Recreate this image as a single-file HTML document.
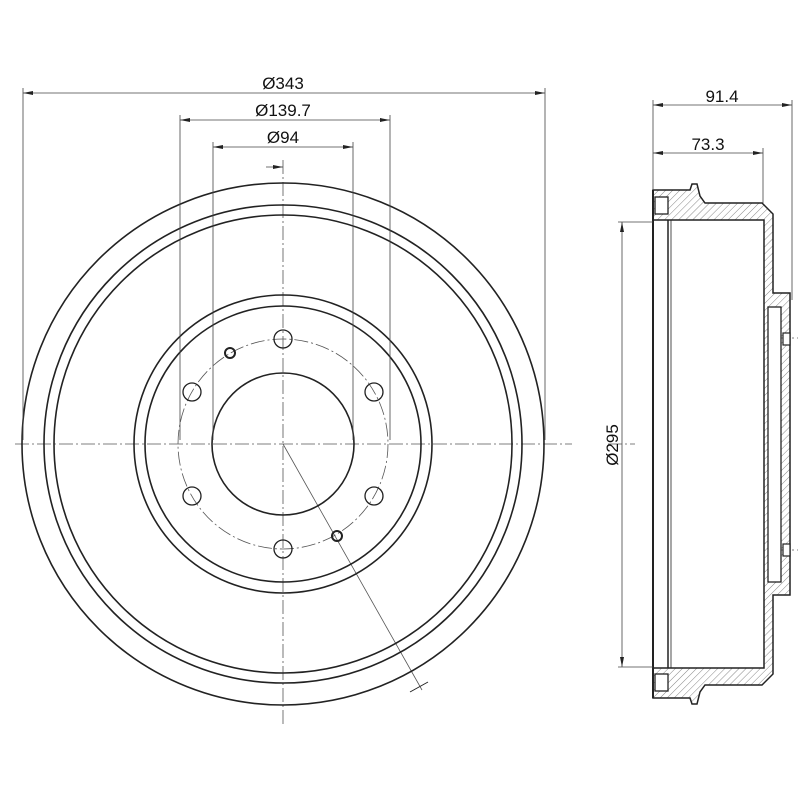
<!DOCTYPE html>
<html><head><style>html,body{margin:0;padding:0;background:#fff}svg{display:block}</style></head><body>
<svg width="800" height="800" viewBox="0 0 800 800" xmlns="http://www.w3.org/2000/svg" font-family="Liberation Sans, sans-serif">
<defs>
<pattern id="h" width="5" height="5" patternUnits="userSpaceOnUse" patternTransform="rotate(45)">
<line x1="0" y1="0" x2="0" y2="5" stroke="#888" stroke-width="1"/>
</pattern>
<marker id="a" viewBox="0 0 10 6" refX="10" refY="3" markerWidth="10" markerHeight="6" orient="auto-start-reverse" markerUnits="userSpaceOnUse"><path d="M0,1 L10,3 L0,5z" fill="#222"/></marker>
</defs>
<g fill="none" stroke="#222">
<g stroke="#555" stroke-width="0.8" stroke-dasharray="14,3,2,3">
<line x1="15" y1="444" x2="572" y2="444"/>
<line x1="283" y1="160" x2="283" y2="725"/>
<circle cx="283" cy="444" r="105"/>
<line x1="608" y1="444" x2="635" y2="444"/>
<line x1="775" y1="338" x2="798" y2="338"/>
<line x1="775" y1="550" x2="798" y2="550"/>
</g>
<line x1="283" y1="444" x2="422" y2="690" stroke="#555" stroke-width="0.8"/>
<line x1="410" y1="692" x2="428" y2="682" stroke="#222" stroke-width="1"/>
<g stroke-width="1.6">
<circle cx="283" cy="444" r="261"/>
<circle cx="283" cy="444" r="239"/>
<circle cx="283" cy="444" r="229"/>
<circle cx="283" cy="444" r="149"/>
<circle cx="283" cy="444" r="138"/>
<circle cx="283" cy="444" r="71"/>
</g>
<g stroke-width="1.3">
<circle cx="283" cy="339" r="9"/>
<circle cx="283" cy="549" r="9"/>
<circle cx="192" cy="392" r="9"/>
<circle cx="374" cy="392" r="9"/>
<circle cx="192" cy="496" r="9"/>
<circle cx="374" cy="496" r="9"/>
<circle cx="230" cy="353" r="5" stroke-width="2"/>
<circle cx="337" cy="536" r="5" stroke-width="2"/>
</g>
<g stroke="#444" stroke-width="0.8">
<line x1="23" y1="88" x2="23" y2="440"/>
<line x1="545" y1="88" x2="545" y2="440"/>
<line x1="180" y1="115" x2="180" y2="440"/>
<line x1="390" y1="115" x2="390" y2="440"/>
<line x1="213" y1="142" x2="213" y2="440"/>
<line x1="353" y1="142" x2="353" y2="440"/>
<line x1="23" y1="93" x2="545" y2="93" marker-start="url(#a)" marker-end="url(#a)"/>
<line x1="180" y1="120" x2="390" y2="120" marker-start="url(#a)" marker-end="url(#a)"/>
<line x1="213" y1="147" x2="353" y2="147" marker-start="url(#a)" marker-end="url(#a)"/>
<line x1="266" y1="167" x2="283" y2="167" marker-end="url(#a)"/>
</g>
<path d="M653,190 L690,190 L692,184 L697,184 L700,196 L705,203 L762,203 L773,214 L773,293 L790,293 L790,595 L773,595 L773,674 L762,685 L705,685 L700,692 L697,704 L692,704 L690,698 L653,698 Z M653,220 L764,220 L764,668 L653,668 Z" fill="url(#h)" fill-rule="evenodd" stroke-width="1.5"/>
<rect x="655" y="197" width="13" height="17" fill="#fff" stroke-width="1.3"/>
<rect x="655" y="674" width="13" height="17" fill="#fff" stroke-width="1.3"/>
<rect x="768" y="307" width="13" height="275" fill="#fff" stroke-width="1.3"/>
<rect x="783" y="333" width="7" height="12" fill="#fff" stroke-width="1.2"/>
<rect x="783" y="544" width="7" height="12" fill="#fff" stroke-width="1.2"/>
<line x1="668" y1="220" x2="668" y2="668" stroke-width="1.5"/>
<line x1="671" y1="220" x2="671" y2="668" stroke-width="0.8"/>
<line x1="653" y1="190" x2="653" y2="698" stroke-width="2"/>
<g stroke="#444" stroke-width="0.8">
<line x1="653" y1="100" x2="653" y2="190"/>
<line x1="792" y1="100" x2="792" y2="300"/>
<line x1="763" y1="148" x2="763" y2="203"/>
<line x1="653" y1="105" x2="792" y2="105" marker-start="url(#a)" marker-end="url(#a)"/>
<line x1="653" y1="153" x2="763" y2="153" marker-start="url(#a)" marker-end="url(#a)"/>
<line x1="618" y1="222" x2="653" y2="222"/>
<line x1="618" y1="667" x2="653" y2="667"/>
<line x1="622" y1="222" x2="622" y2="667" marker-start="url(#a)" marker-end="url(#a)"/>
</g>
</g>
<g font-size="17" fill="#111" text-anchor="middle">
<text x="283" y="89">Ø343</text>
<text x="283" y="116">Ø139.7</text>
<text x="283" y="143">Ø94</text>
<text x="722" y="102">91.4</text>
<text x="708" y="150">73.3</text>
<text x="0" y="0" transform="translate(618,445) rotate(-90)">Ø295</text>
</g>
</svg>
</body></html>
